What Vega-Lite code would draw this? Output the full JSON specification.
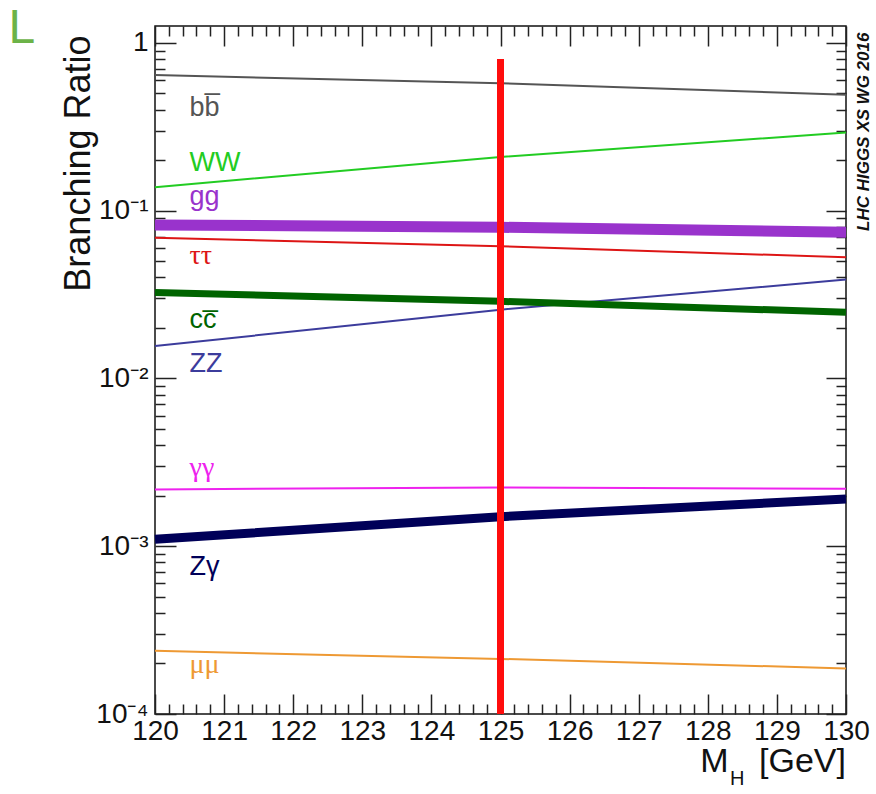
{
  "$schema": "https://vega.github.io/schema/vega-lite/v6.json",
  "width": 691,
  "height": 688,
  "autosize": "none",
  "padding": {"left": 155, "top": 26, "right": 30, "bottom": 80},
  "background": "white",
  "config": {
    "font": "Liberation Sans",
    "view": {"stroke": "#111", "strokeWidth": 1.5},
    "line": {"strokeCap": "butt"},
    "axis": {
      "grid": false,
      "domain": false,
      "tickColor": "#222",
      "tickWidth": 1.5,
      "labelColor": "#111",
      "labelFont": "Liberation Sans",
      "labelFontSize": 28,
      "labelFlush": false,
      "labelOverlap": false,
      "titleFont": "Liberation Sans",
      "titleFontWeight": "normal",
      "titleColor": "#111"
    },
    "scale": {"zero": false}
  },
  "datasets": {
    "br": [
      {"series": "bb", "mh": 120, "br": 0.643},
      {"series": "bb", "mh": 125, "br": 0.574},
      {"series": "bb", "mh": 130, "br": 0.49},
      {"series": "WW", "mh": 120, "br": 0.138},
      {"series": "WW", "mh": 125, "br": 0.209},
      {"series": "WW", "mh": 130, "br": 0.292},
      {"series": "gg", "mh": 120, "br": 0.0822},
      {"series": "gg", "mh": 125, "br": 0.0796},
      {"series": "gg", "mh": 130, "br": 0.0743},
      {"series": "tautau", "mh": 120, "br": 0.0689},
      {"series": "tautau", "mh": 125, "br": 0.0614},
      {"series": "tautau", "mh": 130, "br": 0.0527},
      {"series": "cc", "mh": 120, "br": 0.0325},
      {"series": "cc", "mh": 125, "br": 0.0288},
      {"series": "cc", "mh": 130, "br": 0.0248},
      {"series": "ZZ", "mh": 120, "br": 0.0156},
      {"series": "ZZ", "mh": 125, "br": 0.0257},
      {"series": "ZZ", "mh": 130, "br": 0.0388},
      {"series": "gamgam", "mh": 120, "br": 0.00218},
      {"series": "gamgam", "mh": 125, "br": 0.00224},
      {"series": "gamgam", "mh": 130, "br": 0.0022},
      {"series": "Zgam", "mh": 120, "br": 0.0011},
      {"series": "Zgam", "mh": 125, "br": 0.0015},
      {"series": "Zgam", "mh": 130, "br": 0.00191},
      {"series": "mumu", "mh": 120, "br": 0.000238},
      {"series": "mumu", "mh": 125, "br": 0.000213},
      {"series": "mumu", "mh": 130, "br": 0.000187}
    ],
    "labels": [
      {"series": "bb", "text": "bb̅", "mh": 120.5, "br": 0.367},
      {"series": "WW", "text": "WW", "mh": 120.5, "br": 0.173},
      {"series": "gg", "text": "gg", "mh": 120.5, "br": 0.1087},
      {"series": "tautau", "text": "ττ", "mh": 120.5, "br": 0.0484},
      {"series": "cc", "text": "cc̅", "mh": 120.5, "br": 0.0199},
      {"series": "ZZ", "text": "ZZ", "mh": 120.5, "br": 0.01087},
      {"series": "gamgam", "text": "γγ", "mh": 120.5, "br": 0.00261},
      {"series": "Zgam", "text": "Zγ", "mh": 120.5, "br": 0.000671},
      {"series": "mumu", "text": "μμ", "mh": 120.5, "br": 0.000175}
    ],
    "one": [{}]
  },
  "layer": [
    {
      "data": {"name": "br"},
      "transform": [{"filter": "indexof(['gg', 'cc', 'Zgam'], datum.series) < 0"}],
      "mark": {"type": "line", "strokeWidth": 2},
      "encoding": {
        "x": {
          "field": "mh", "type": "quantitative",
          "scale": {"domain": [120, 130], "nice": false},
          "axis": {
            "orient": "bottom", "values": [120, 121, 122, 123, 124, 125, 126, 127, 128, 129, 130],
            "tickSize": -20, "labelPadding": 23, "format": "d", "title": null
          }
        },
        "y": {
          "field": "br", "type": "quantitative",
          "scale": {"type": "log", "domain": [0.0001, 1.26], "nice": false},
          "axis": {
            "orient": "left", "values": [0.0001, 0.001, 0.01, 0.1, 1],
            "tickSize": -21, "labelPadding": 28,
            "labelExpr": "datum.value >= 0.9 ? '1' : '10' + (datum.value >= 0.09 ? '⁻¹' : datum.value >= 0.009 ? '⁻²' : datum.value >= 0.0009 ? '⁻³' : '⁻⁴')",
            "title": "Branching Ratio", "titleFontSize": 36,
            "titleAngle": 270, "titleAlign": "right", "titleBaseline": "alphabetic",
            "titleX": -66, "titleY": 9
          }
        },
        "color": {
          "field": "series", "type": "nominal", "legend": null,
          "scale": {
            "domain": ["bb", "WW", "gg", "tautau", "cc", "ZZ", "gamgam", "Zgam", "mumu"],
            "range": ["#555555", "#22cc22", "#9933cc", "#dd1515", "#006400", "#3c3c9c", "#ee22ee", "#000058", "#ee9933"]
          }
        }
      }
    },
    {
      "data": {"name": "br"},
      "transform": [{"filter": "datum.series === 'gg'"}],
      "mark": {"type": "line", "strokeWidth": 11},
      "encoding": {
        "x": {"field": "mh", "type": "quantitative", "scale": {"domain": [120, 130], "nice": false}, "axis": null},
        "y": {"field": "br", "type": "quantitative", "scale": {"type": "log", "domain": [0.0001, 1.26], "nice": false}, "axis": null},
        "color": {"field": "series", "type": "nominal", "legend": null}
      }
    },
    {
      "data": {"name": "br"},
      "transform": [{"filter": "datum.series === 'cc'"}],
      "mark": {"type": "line", "strokeWidth": 7},
      "encoding": {
        "x": {"field": "mh", "type": "quantitative", "scale": {"domain": [120, 130], "nice": false}, "axis": null},
        "y": {"field": "br", "type": "quantitative", "scale": {"type": "log", "domain": [0.0001, 1.26], "nice": false}, "axis": null},
        "color": {"field": "series", "type": "nominal", "legend": null}
      }
    },
    {
      "data": {"name": "br"},
      "transform": [{"filter": "datum.series === 'Zgam'"}],
      "mark": {"type": "line", "strokeWidth": 9},
      "encoding": {
        "x": {"field": "mh", "type": "quantitative", "scale": {"domain": [120, 130], "nice": false}, "axis": null},
        "y": {"field": "br", "type": "quantitative", "scale": {"type": "log", "domain": [0.0001, 1.26], "nice": false}, "axis": null},
        "color": {"field": "series", "type": "nominal", "legend": null}
      }
    },
    {
      "data": {"name": "one"},
      "mark": {"type": "rule", "color": "#ff0d0d", "strokeWidth": 7, "strokeCap": "butt"},
      "encoding": {
        "x": {
          "datum": 125, "type": "quantitative",
          "scale": {"domain": [120, 130], "nice": false},
          "axis": {
            "orient": "bottom", "labels": false, "title": null, "tickSize": -10,
            "values": [120.2, 120.4, 120.6, 120.8, 121.2, 121.4, 121.6, 121.8, 122.2, 122.4, 122.6, 122.8, 123.2, 123.4, 123.6, 123.8, 124.2, 124.4, 124.6, 124.8, 125.2, 125.4, 125.6, 125.8, 126.2, 126.4, 126.6, 126.8, 127.2, 127.4, 127.6, 127.8, 128.2, 128.4, 128.6, 128.8, 129.2, 129.4, 129.6, 129.8]
          }
        },
        "y": {
          "datum": 0.0001, "type": "quantitative",
          "scale": {"type": "log", "domain": [0.0001, 1.26], "nice": false},
          "axis": {
            "orient": "left", "labels": false, "title": null, "tickSize": -10,
            "values": [0.0002, 0.0003, 0.0004, 0.0005, 0.0006, 0.0007, 0.0008, 0.0009, 0.002, 0.003, 0.004, 0.005, 0.006, 0.007, 0.008, 0.009, 0.02, 0.03, 0.04, 0.05, 0.06, 0.07, 0.08, 0.09, 0.2, 0.3, 0.4, 0.5, 0.6, 0.7, 0.8, 0.9]
          }
        },
        "y2": {"datum": 0.8}
      }
    },
    {
      "data": {"name": "labels"},
      "transform": [{"filter": "indexof(['tautau', 'gamgam', 'mumu'], datum.series) < 0"}],
      "mark": {"type": "text", "align": "left", "baseline": "alphabetic", "fontSize": 27, "font": "Liberation Sans"},
      "encoding": {
        "x": {
          "field": "mh", "type": "quantitative",
          "scale": {"domain": [120, 130], "nice": false},
          "axis": {
            "orient": "top", "labels": false, "title": null, "tickSize": -20,
            "values": [120, 121, 122, 123, 124, 125, 126, 127, 128, 129, 130]
          }
        },
        "y": {
          "field": "br", "type": "quantitative",
          "scale": {"type": "log", "domain": [0.0001, 1.26], "nice": false},
          "axis": {
            "orient": "right", "labels": false, "title": null, "tickSize": -20,
            "values": [0.0001, 0.001, 0.01, 0.1, 1]
          }
        },
        "text": {"field": "text"},
        "color": {"field": "series", "type": "nominal", "legend": null}
      }
    },
    {
      "data": {"name": "labels"},
      "transform": [{"filter": "indexof(['tautau', 'gamgam', 'mumu'], datum.series) >= 0"}],
      "mark": {"type": "text", "align": "left", "baseline": "alphabetic", "fontSize": 28, "font": "Liberation Serif"},
      "encoding": {
        "x": {"field": "mh", "type": "quantitative", "scale": {"domain": [120, 130], "nice": false}, "axis": null},
        "y": {"field": "br", "type": "quantitative", "scale": {"type": "log", "domain": [0.0001, 1.26], "nice": false}, "axis": null},
        "text": {"field": "text"},
        "color": {"field": "series", "type": "nominal", "legend": null}
      }
    },
    {
      "data": {"name": "one"},
      "mark": {"type": "text", "text": "LHC HIGGS XS WG 2016", "angle": 270, "align": "center", "baseline": "middle", "fontSize": 17, "fontWeight": "bold", "fontStyle": "italic", "font": "Liberation Sans", "color": "#111"},
      "encoding": {
        "x": {
          "datum": 130.26, "type": "quantitative",
          "scale": {"domain": [120, 130], "nice": false},
          "axis": {
            "orient": "top", "labels": false, "title": null, "tickSize": -10,
            "values": [120.2, 120.4, 120.6, 120.8, 121.2, 121.4, 121.6, 121.8, 122.2, 122.4, 122.6, 122.8, 123.2, 123.4, 123.6, 123.8, 124.2, 124.4, 124.6, 124.8, 125.2, 125.4, 125.6, 125.8, 126.2, 126.4, 126.6, 126.8, 127.2, 127.4, 127.6, 127.8, 128.2, 128.4, 128.6, 128.8, 129.2, 129.4, 129.6, 129.8]
          }
        },
        "y": {
          "datum": 0.295, "type": "quantitative",
          "scale": {"type": "log", "domain": [0.0001, 1.26], "nice": false},
          "axis": {
            "orient": "right", "labels": false, "title": null, "tickSize": -10,
            "values": [0.0002, 0.0003, 0.0004, 0.0005, 0.0006, 0.0007, 0.0008, 0.0009, 0.002, 0.003, 0.004, 0.005, 0.006, 0.007, 0.008, 0.009, 0.02, 0.03, 0.04, 0.05, 0.06, 0.07, 0.08, 0.09, 0.2, 0.3, 0.4, 0.5, 0.6, 0.7, 0.8, 0.9]
          }
        }
      }
    },
    {
      "data": {"name": "one"},
      "mark": {"type": "text", "text": "[GeV]", "align": "right", "baseline": "alphabetic", "fontSize": 34, "font": "Liberation Sans", "color": "#111"},
      "encoding": {
        "x": {"datum": 130, "type": "quantitative", "scale": {"domain": [120, 130], "nice": false}, "axis": null},
        "y": {"datum": 0.0000452, "type": "quantitative", "scale": {"type": "log", "domain": [0.0001, 1.26], "nice": false}, "axis": null}
      }
    },
    {
      "data": {"name": "one"},
      "mark": {"type": "text", "text": "M", "align": "right", "baseline": "alphabetic", "fontSize": 34, "font": "Liberation Sans", "color": "#111"},
      "encoding": {
        "x": {"datum": 128.3, "type": "quantitative", "scale": {"domain": [120, 130], "nice": false}, "axis": null},
        "y": {"datum": 0.0000452, "type": "quantitative", "scale": {"type": "log", "domain": [0.0001, 1.26], "nice": false}, "axis": null}
      }
    },
    {
      "data": {"name": "one"},
      "mark": {"type": "text", "text": "H", "align": "left", "baseline": "alphabetic", "fontSize": 20, "font": "Liberation Sans", "color": "#111"},
      "encoding": {
        "x": {"datum": 128.32, "type": "quantitative", "scale": {"domain": [120, 130], "nice": false}, "axis": null},
        "y": {"datum": 0.0000378, "type": "quantitative", "scale": {"type": "log", "domain": [0.0001, 1.26], "nice": false}, "axis": null}
      }
    },
    {
      "data": {"name": "one"},
      "mark": {"type": "text", "text": "L", "align": "left", "baseline": "alphabetic", "fontSize": 48, "font": "Liberation Sans", "color": "#6cb348"},
      "encoding": {
        "x": {"datum": 117.88, "type": "quantitative", "scale": {"domain": [120, 130], "nice": false}, "axis": null},
        "y": {"datum": 1.0, "type": "quantitative", "scale": {"type": "log", "domain": [0.0001, 1.26], "nice": false}, "axis": null}
      }
    }
  ],
  "resolve": {"axis": {"x": "independent", "y": "independent"}}
}
